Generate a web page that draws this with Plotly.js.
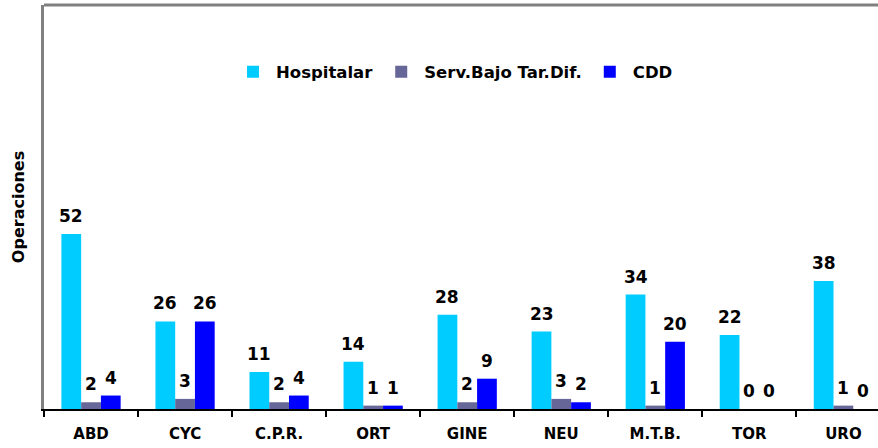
<!DOCTYPE html>
<html>
<head>
<meta charset="utf-8">
<script src="https://cdn.plot.ly/plotly-3.0.1.min.js"></script>
<style>html,body{margin:0;padding:0;background:#fff;}#chart{width:878px;height:448px;}</style>
</head>
<body>
<div id="chart"></div>
<script>
// ---- data ----
const categories = ['ABD', 'CYC', 'C.P.R.', 'ORT', 'GINE', 'NEU', 'M.T.B.', 'TOR', 'URO'];
const seriesNames = ['Hospitalar', 'Serv.Bajo Tar.Dif.', 'CDD'];
const hospitalar = [52, 26, 11, 14, 28, 23, 34, 22, 38];
const servBajo = [2, 3, 2, 1, 2, 3, 1, 0, 1];
const cdd = [4, 26, 4, 1, 9, 2, 20, 0, 0];
const yTitle = 'Operaciones';

// ---- styling ----
const colors = ['#00CCFF', '#666699', '#0000FF'];
const FONT = 'DejaVu Sans, Verdana, sans-serif';
const bargap = 0.37;
const seriesValues = [hospitalar, servBajo, cdd];

const traces = seriesValues.map((vals, j) => ({
  type: 'bar',
  name: seriesNames[j],
  x: categories,
  y: vals,
  marker: { color: colors[j], line: { width: 0 } },
  hoverinfo: 'x+y+name'
}));

// value labels placed over each bar via the axis scales
const annotations = [];
const nSeries = seriesValues.length;
const barW = (1 - bargap) / nSeries;
seriesValues.forEach((vals, j) => {
  vals.forEach((v, i) => {
    annotations.push({
      x: i + (j - (nSeries - 1) / 2) * barW,
      y: v,
      xref: 'x', yref: 'y',
      text: String(v),
      showarrow: false,
      xanchor: 'center', yanchor: 'bottom',
      yshift: 6,
      font: { family: FONT, size: 17, color: '#000', weight: 'bold' }
    });
  });
});

const layout = {
  width: 878, height: 448,
  margin: { l: 44, r: 0, t: 5, b: 39, pad: 0 },
  paper_bgcolor: '#fff', plot_bgcolor: '#fff',
  barmode: 'group', bargap: bargap, bargroupgap: 0,
  showlegend: true,
  legend: {
    orientation: 'h', x: 0.223, y: 0.834, xanchor: 'left', yanchor: 'middle',
    itemwidth: 36,
    font: { family: FONT, size: 16.5, color: '#000', weight: 'bold' },
    bgcolor: 'rgba(0,0,0,0)', borderwidth: 0, itemclick: false, itemdoubleclick: false
  },
  xaxis: {
    type: 'category', categoryorder: 'array', categoryarray: categories,
    range: [-0.5, 8.368],
    showline: true, linecolor: '#000', linewidth: 2,
    ticks: 'outside', ticklen: 6, tickwidth: 2, tickcolor: '#000', tickson: 'boundaries',
    ticklabelstandoff: 10,
    tickfont: { family: FONT, size: 15, color: '#000', weight: 'bold' },
    showgrid: false, zeroline: false, fixedrange: true
  },
  yaxis: {
    range: [0, 120],
    showline: true, linecolor: '#808080', linewidth: 3,
    showticklabels: false, ticks: '', showgrid: false, zeroline: false, fixedrange: true,
    title: { text: yTitle, font: { family: FONT, size: 16, color: '#000', weight: 'bold' }, standoff: 13 }
  },
  shapes: [{
    type: 'line', xref: 'paper', yref: 'paper', x0: 0, x1: 1, y0: 1, y1: 1,
    line: { color: '#808080', width: 3 }
  }],
  annotations: annotations
};

Plotly.newPlot('chart', traces, layout, { displayModeBar: false, staticPlot: true });
</script>
</body>
</html>
